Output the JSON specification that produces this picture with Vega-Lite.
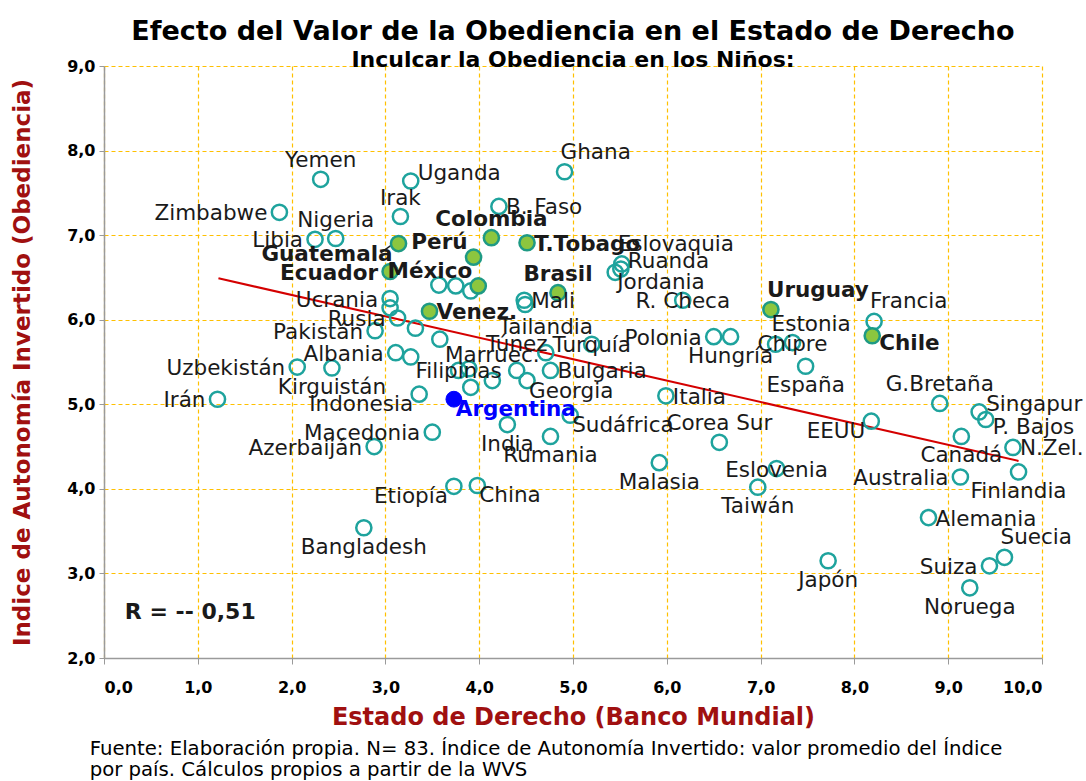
{
  "$schema": "https://vega.github.io/schema/vega-lite/v6.json",
  "background": "white",
  "padding": {"left": 11, "top": 18, "right": 2, "bottom": 5},
  "config": {"font": "DejaVu Sans", "view": {"stroke": null}},
  "title": {
    "text": ["Fuente: Elaboración propia. N= 83. Índice de Autonomía Invertido: valor promedio del Índice", "por país. Cálculos propios a partir de la WVS"],
    "orient": "bottom", "anchor": "start", "frame": "bounds", "fontSize": 19.7, "fontWeight": "normal",
    "font": "DejaVu Sans", "color": "black", "lineHeight": 21, "offset": 10, "dx": 78
  },
  "vconcat": [
    {
      "width": 938,
      "height": 592,
      "title": {
        "text": "Efecto del Valor de la Obediencia en el Estado de Derecho",
        "subtitle": "Inculcar la Obediencia en los Niños:",
        "anchor": "middle", "frame": "group", "fontSize": 27, "fontWeight": "bold", "color": "black",
        "subtitleFontSize": 22, "subtitleFontWeight": "bold", "subtitleColor": "black", "subtitleFont": "DejaVu Sans",
        "offset": -14, "subtitlePadding": 4
      },
      "data": {"values": [
        {"pais": "Yemen", "x": 2.31, "y": 7.66, "grupo": "otro", "pos": "above"},
        {"pais": "Zimbabwe", "x": 1.87, "y": 7.27, "grupo": "otro", "pos": "left"},
        {"pais": "Uganda", "x": 3.27, "y": 7.64, "grupo": "otro", "pos": "rightup"},
        {"pais": "Irak", "x": 3.16, "y": 7.22, "grupo": "otro", "pos": "above"},
        {"pais": "Libia", "x": 2.25, "y": 6.95, "grupo": "otro", "pos": "left"},
        {"pais": "Nigeria", "x": 2.47, "y": 6.96, "grupo": "otro", "pos": "above"},
        {"pais": "Guatemala", "x": 3.14, "y": 6.90, "grupo": "latam", "pos": "belowleft"},
        {"pais": "Ecuador", "x": 3.05, "y": 6.57, "grupo": "latam", "pos": "left"},
        {"pais": "Colombia", "x": 4.13, "y": 6.97, "grupo": "latam", "pos": "above"},
        {"pais": "Perú", "x": 3.94, "y": 6.74, "grupo": "latam", "pos": "aboveleft"},
        {"pais": "T.Tobago", "x": 4.51, "y": 6.91, "grupo": "latam", "pos": "right"},
        {"pais": "México", "x": 3.99, "y": 6.40, "grupo": "latam", "pos": "aboveleft"},
        {"pais": "Brasil", "x": 4.84, "y": 6.32, "grupo": "latam", "pos": "above"},
        {"pais": "Venez.", "x": 3.47, "y": 6.10, "grupo": "latam", "pos": "right"},
        {"pais": "Uruguay", "x": 7.11, "y": 6.12, "grupo": "latam", "pos": "aboveright"},
        {"pais": "Chile", "x": 8.19, "y": 5.81, "grupo": "latam", "pos": "rightdown"},
        {"pais": "Argentina", "x": 3.73, "y": 5.06, "grupo": "arg", "pos": "belowright"},
        {"pais": "Ghana", "x": 4.91, "y": 7.75, "grupo": "otro", "pos": "aboveright"},
        {"pais": "B. Faso", "x": 4.21, "y": 7.34, "grupo": "otro", "pos": "right"},
        {"pais": "Eslovaquia", "x": 5.52, "y": 6.66, "grupo": "otro", "pos": "aboveright"},
        {"pais": "Ruanda", "x": 5.51, "y": 6.60, "grupo": "otro", "pos": "rightup"},
        {"pais": "Jordania", "x": 5.45, "y": 6.56, "grupo": "otro", "pos": "belowright"},
        {"pais": "R. Checa", "x": 6.17, "y": 6.23, "grupo": "otro", "pos": "center"},
        {"pais": "Francia", "x": 8.21, "y": 5.98, "grupo": "otro", "pos": "aboveright"},
        {"pais": "Polonia", "x": 6.50, "y": 5.80, "grupo": "otro", "pos": "left"},
        {"pais": "Hungría", "x": 6.68, "y": 5.80, "grupo": "otro", "pos": "below"},
        {"pais": "Estonia", "x": 7.16, "y": 5.71, "grupo": "otro", "pos": "aboveright"},
        {"pais": "Chipre", "x": 7.34, "y": 5.73, "grupo": "otro", "pos": "center"},
        {"pais": "España", "x": 7.48, "y": 5.45, "grupo": "otro", "pos": "below"},
        {"pais": "G.Bretaña", "x": 8.91, "y": 5.01, "grupo": "otro", "pos": "above"},
        {"pais": "Singapur", "x": 9.33, "y": 4.91, "grupo": "otro", "pos": "rightup"},
        {"pais": "P. Bajos", "x": 9.40, "y": 4.82, "grupo": "otro", "pos": "rightdown"},
        {"pais": "EEUU", "x": 8.18, "y": 4.80, "grupo": "otro", "pos": "belowleft"},
        {"pais": "Canadá", "x": 9.14, "y": 4.62, "grupo": "otro", "pos": "below"},
        {"pais": "N.Zel.", "x": 9.69, "y": 4.49, "grupo": "otro", "pos": "right"},
        {"pais": "Australia", "x": 9.13, "y": 4.14, "grupo": "otro", "pos": "left"},
        {"pais": "Finlandia", "x": 9.75, "y": 4.20, "grupo": "otro", "pos": "below"},
        {"pais": "Alemania", "x": 8.79, "y": 3.66, "grupo": "otro", "pos": "right"},
        {"pais": "Suecia", "x": 9.60, "y": 3.19, "grupo": "otro", "pos": "aboveright"},
        {"pais": "Suiza", "x": 9.44, "y": 3.09, "grupo": "otro", "pos": "left"},
        {"pais": "Noruega", "x": 9.23, "y": 2.83, "grupo": "otro", "pos": "below"},
        {"pais": "Japón", "x": 7.72, "y": 3.15, "grupo": "otro", "pos": "below"},
        {"pais": "Taiwán", "x": 6.97, "y": 4.02, "grupo": "otro", "pos": "below"},
        {"pais": "Eslovenia", "x": 7.17, "y": 4.24, "grupo": "otro", "pos": "center"},
        {"pais": "Corea Sur", "x": 6.56, "y": 4.55, "grupo": "otro", "pos": "above"},
        {"pais": "Malasia", "x": 5.92, "y": 4.31, "grupo": "otro", "pos": "below"},
        {"pais": "Italia", "x": 5.99, "y": 5.10, "grupo": "otro", "pos": "right"},
        {"pais": "Sudáfrica", "x": 4.97, "y": 4.87, "grupo": "otro", "pos": "belowright"},
        {"pais": "Rumania", "x": 4.76, "y": 4.62, "grupo": "otro", "pos": "below"},
        {"pais": "India", "x": 4.30, "y": 4.76, "grupo": "otro", "pos": "below"},
        {"pais": "China", "x": 3.98, "y": 4.04, "grupo": "otro", "pos": "belowright"},
        {"pais": "Etiopía", "x": 3.73, "y": 4.03, "grupo": "otro", "pos": "belowleft"},
        {"pais": "Bangladesh", "x": 2.77, "y": 3.54, "grupo": "otro", "pos": "below"},
        {"pais": "Azerbaiján", "x": 2.88, "y": 4.50, "grupo": "otro", "pos": "left"},
        {"pais": "Macedonia", "x": 3.50, "y": 4.67, "grupo": "otro", "pos": "left"},
        {"pais": "Irán", "x": 1.21, "y": 5.06, "grupo": "otro", "pos": "left"},
        {"pais": "Uzbekistán", "x": 2.06, "y": 5.44, "grupo": "otro", "pos": "left"},
        {"pais": "Kirguistán", "x": 2.43, "y": 5.43, "grupo": "otro", "pos": "below"},
        {"pais": "Indonesia", "x": 3.36, "y": 5.12, "grupo": "otro", "pos": "belowleft"},
        {"pais": "Filipinas", "x": 3.78, "y": 5.40, "grupo": "otro", "pos": "center"},
        {"pais": "Marruec.", "x": 4.14, "y": 5.28, "grupo": "otro", "pos": "above2"},
        {"pais": "Túnez", "x": 4.40, "y": 5.40, "grupo": "otro", "pos": "above2"},
        {"pais": "Tailandia", "x": 4.71, "y": 5.61, "grupo": "otro", "pos": "above2"},
        {"pais": "Mali", "x": 4.48, "y": 6.23, "grupo": "otro", "pos": "right"},
        {"pais": "Turquía", "x": 5.20, "y": 5.71, "grupo": "otro", "pos": "center"},
        {"pais": "Bulgaria", "x": 4.76, "y": 5.40, "grupo": "otro", "pos": "right"},
        {"pais": "Georgia", "x": 4.51, "y": 5.28, "grupo": "otro", "pos": "belowright"},
        {"pais": "Albania", "x": 3.11, "y": 5.61, "grupo": "otro", "pos": "left"},
        {"pais": "Pakistán", "x": 2.89, "y": 5.87, "grupo": "otro", "pos": "left"},
        {"pais": "Rusia", "x": 3.13, "y": 6.02, "grupo": "otro", "pos": "left"},
        {"pais": "Ucrania", "x": 3.05, "y": 6.25, "grupo": "otro", "pos": "left"},
        {"pais": "", "x": 3.05, "y": 6.14, "grupo": "otro", "pos": "none"},
        {"pais": "", "x": 3.32, "y": 5.90, "grupo": "otro", "pos": "none"},
        {"pais": "", "x": 3.58, "y": 5.77, "grupo": "otro", "pos": "none"},
        {"pais": "", "x": 3.27, "y": 5.56, "grupo": "otro", "pos": "none"},
        {"pais": "", "x": 3.89, "y": 5.42, "grupo": "otro", "pos": "none"},
        {"pais": "", "x": 3.91, "y": 5.20, "grupo": "otro", "pos": "none"},
        {"pais": "", "x": 3.57, "y": 6.41, "grupo": "otro", "pos": "none"},
        {"pais": "", "x": 3.75, "y": 6.40, "grupo": "otro", "pos": "none"},
        {"pais": "", "x": 3.91, "y": 6.34, "grupo": "otro", "pos": "none"},
        {"pais": "", "x": 4.49, "y": 6.18, "grupo": "otro", "pos": "none"}
      ]},
      "layer": [
        {
          "data": {"values": [{"x": 1.22, "y": 6.49}, {"x": 9.75, "y": 4.33}]},
          "mark": {"type": "line", "color": "#d40000", "strokeWidth": 2},
          "encoding": {
            "x": {"field": "x", "type": "quantitative", "scale": {"domain": [0, 10], "nice": false, "zero": false},
              "axis": {
                "title": "Estado de Derecho (Banco Mundial)", "titleFontSize": 24, "titleFontWeight": "bold", "titleColor": "#a01010",
                "titlePadding": 10, "labelFontSize": 16, "labelFontWeight": "bold", "labelColor": "black",
                "tickColor": "#9a9a9a", "domainColor": "#9a9a9a", "domainWidth": 1.5, "tickSize": 6, "labelPadding": 15,
                "values": [0, 1, 2, 3, 4, 5, 6, 7, 8, 9, 10],
                "labelExpr": "replace(format(datum.value, '.1f'), '.', ',')",
                "grid": true, "gridColor": "#ffc000", "gridDash": [4, 3], "gridWidth": 1.2, "gridOpacity": 1
              }},
            "y": {"field": "y", "type": "quantitative", "scale": {"domain": [2, 9], "nice": false, "zero": false},
              "axis": {
                "title": "Indice de Autonomía Invertido (Obediencia)", "titleFontSize": 23, "titleFontWeight": "bold", "titleColor": "#a01010",
                "titlePadding": 32, "labelFontSize": 16, "labelFontWeight": "bold", "labelColor": "black",
                "tickColor": "#9a9a9a", "domainColor": "#9a9a9a", "domainWidth": 1.5, "tickSize": 5, "labelPadding": 4,
                "values": [2, 3, 4, 5, 6, 7, 8, 9],
                "labelExpr": "replace(format(datum.value, '.1f'), '.', ',')",
                "grid": true, "gridColor": "#ffc000", "gridDash": [4, 3], "gridWidth": 1.2, "gridOpacity": 1
              }}
          }
        },
        {
          "data": {"values": [{}]},
          "mark": {"type": "rule", "color": "#222222", "strokeWidth": 1.5},
          "encoding": {
            "x": {"datum": 2.95}, "y": {"datum": 6.79},
            "x2": {"datum": 3.06}, "y2": {"datum": 6.88}
          }
        },
        {
          "transform": [{"filter": "datum.grupo == 'otro'"}],
          "mark": {"type": "point", "shape": "circle", "filled": false, "size": 230, "strokeWidth": 2.5, "color": "#1ea39d", "opacity": 1},
          "encoding": {
            "x": {"field": "x", "type": "quantitative"},
            "y": {"field": "y", "type": "quantitative"}
          }
        },
        {
          "transform": [{"filter": "datum.grupo == 'latam'"}],
          "mark": {"type": "point", "shape": "circle", "filled": true, "size": 230, "strokeWidth": 2.5, "fill": "#8cc63f", "stroke": "#1e9a84", "fillOpacity": 1, "strokeOpacity": 1},
          "encoding": {
            "x": {"field": "x", "type": "quantitative"},
            "y": {"field": "y", "type": "quantitative"}
          }
        },
        {
          "transform": [{"filter": "datum.grupo == 'arg'"}],
          "mark": {"type": "point", "shape": "circle", "filled": true, "size": 250, "strokeWidth": 1, "fill": "#0000ff", "stroke": "#0000ff", "fillOpacity": 1},
          "encoding": {
            "x": {"field": "x", "type": "quantitative"},
            "y": {"field": "y", "type": "quantitative"}
          }
        },
        {
          "transform": [{"filter": "datum.pos != 'none'"}],
          "mark": {
            "type": "text", "fontSize": 21.5, "font": "DejaVu Sans",
            "fontWeight": {"expr": "datum.grupo == 'otro' ? 'normal' : 'bold'"},
            "align": {"expr": "indexof(['left','aboveleft','belowleft'], datum.pos) >= 0 ? 'right' : (indexof(['right','rightup','rightdown','aboveright','belowright'], datum.pos) >= 0 ? 'left' : 'center')"},
            "baseline": {"expr": "indexof(['above','above2','aboveleft','aboveright'], datum.pos) >= 0 ? 'bottom' : (indexof(['below','belowleft','belowright'], datum.pos) >= 0 ? 'top' : 'middle')"},
            "dx": {"expr": "datum.pos == 'left' ? -12 : (indexof(['right','rightup','rightdown'], datum.pos) >= 0) ? 7 : (datum.pos == 'aboveleft' || datum.pos == 'belowleft') ? -6 : datum.pos == 'aboveright' ? -4 : datum.pos == 'belowright' ? 2 : 0"},
            "dy": {"expr": "datum.pos == 'above' ? -7 : datum.pos == 'above2' ? -14 : datum.pos == 'below' ? 9 : datum.pos == 'aboveright' ? -8 : datum.pos == 'aboveleft' ? -3 : datum.pos == 'rightup' ? -7 : datum.pos == 'rightdown' ? 8 : (datum.pos == 'belowleft' || datum.pos == 'belowright') ? 0 : 2"}
          },
          "encoding": {
            "x": {"field": "x", "type": "quantitative"},
            "y": {"field": "y", "type": "quantitative"},
            "text": {"field": "pais"},
            "color": {"field": "grupo", "type": "nominal", "scale": {"domain": ["otro", "latam", "arg"], "range": ["#1a1a1a", "#1a1a1a", "#0000ff"]}, "legend": null}
          }
        },
        {
          "data": {"values": [{}]},
          "mark": {"type": "text", "fontSize": 22, "fontWeight": "bold", "font": "DejaVu Sans", "color": "#1a1a1a", "align": "center", "baseline": "middle"},
          "encoding": {
            "x": {"datum": 0.92}, "y": {"datum": 2.54},
            "text": {"value": "R = -- 0,51"}
          }
        }
      ]
    }
  ]
}
